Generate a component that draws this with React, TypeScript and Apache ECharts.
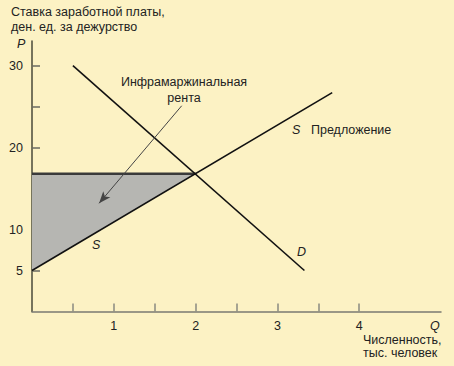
import React, { useEffect, useRef } from "react";
import * as echarts from "echarts";

const supplyPoints: [number, number][] = [[0, 5], [3.67, 26.7]];
const demandPoints: [number, number][] = [[0.5, 30], [3.33, 5]];
const wageLevel: [number, number][] = [[0, 16.8], [2, 16.8]];
const rentArea: [number, number][] = [[0, 5], [0, 16.8], [2, 16.8]];
const arrowPoints: [number, number][] = [[1.83, 25.1], [0.82, 13.2]];
const yTicks = [5, 10, 15, 20, 25, 30];
const yLabels = [5, 10, 20, 30];
const xTicks = [0.5, 1, 1.5, 2, 2.5, 3, 3.5, 4];
const xLabels = [1, 2, 3, 4];

const FONT = "Liberation Sans";
const TXT = "#222";

export default function App() {
  const ref = useRef<HTMLDivElement>(null);
  useEffect(() => {
    const chart = echarts.init(ref.current!, null, { renderer: "svg" });
    const t = (text: string, x: number, y: number, opts: any = {}) => ({
      type: "text",
      x,
      y,
      style: {
        text,
        fill: TXT,
        font: `${opts.italic ? "italic " : ""}${opts.size || 12.5}px "${FONT}"`,
        align: opts.align || "left",
        verticalAlign: "middle",
        lineHeight: opts.lineHeight,
      },
    });
    chart.setOption({
      animation: false,
      backgroundColor: "#fcf2c4",
      grid: { left: 32, top: 41, width: 409, height: 270.5 },
      xAxis: {
        type: "value",
        min: 0,
        max: 5,
        interval: 0.5,
        splitLine: { show: false },
        axisLine: { lineStyle: { color: "#7a7a72", width: 1.5 } },
        axisTick: { show: true, inside: true, length: 8, customValues: xTicks, lineStyle: { color: "#8a8a80", width: 1.5 } },
        axisLabel: { customValues: xLabels, color: TXT, fontFamily: FONT, fontSize: 12.5, margin: 8 },
      },
      yAxis: {
        type: "value",
        min: 0,
        max: 33,
        interval: 5,
        splitLine: { show: false },
        axisLine: { show: true, lineStyle: { color: "#4a4a3a", width: 1.5 } },
        axisTick: { show: true, inside: true, length: 8, customValues: yTicks, lineStyle: { color: "#6a6a60", width: 1.5 } },
        axisLabel: { customValues: yLabels, color: TXT, fontFamily: FONT, fontSize: 12.5, margin: 9 },
      },
      series: [
        {
          type: "custom",
          renderItem: (params: any, api: any) => {
            const pts = rentArea.map((p) => api.coord(p));
            return { type: "polygon", shape: { points: pts }, style: { fill: "#b6b6b2" } };
          },
          data: [0],
          silent: true,
        },
        {
          type: "line",
          data: wageLevel,
          symbol: "none",
          lineStyle: { color: "#3a3a3a", width: 2.5 },
        },
        {
          type: "line",
          data: supplyPoints,
          symbol: "none",
          lineStyle: { color: "#111", width: 1.6 },
        },
        {
          type: "line",
          data: demandPoints,
          symbol: "none",
          lineStyle: { color: "#111", width: 1.6 },
        },
        {
          type: "line",
          data: [],
          markLine: {
            silent: true,
            symbol: ["none", "arrow"],
            symbolSize: [7, 12],
            label: { show: false },
            lineStyle: { color: "#444", width: 1, type: "solid" },
            data: [[{ coord: arrowPoints[0] }, { coord: arrowPoints[1] }]],
          },
        },
      ],
      graphic: [
        t("Ставка заработной платы,", 11, 12),
        t("ден. ед. за дежурство", 11, 26.5),
        t("P", 17, 44, { italic: true }),
        t("Q", 430, 326, { italic: true }),
        t("Численность,\nтыс. человек", 363, 346.5, { lineHeight: 13 }),
        t("Инфрамаржинальная\nрента", 184, 90, { align: "center", lineHeight: 16 }),
        t("S", 92, 245, { italic: true }),
        t("S", 292, 130, { italic: true }),
        t("Предложение", 311, 130),
        t("D", 297, 252, { italic: true }),
      ],
    });
    return () => chart.dispose();
  }, []);
  return <div ref={ref} style={{ position: "fixed", left: 0, top: 0, width: 454, height: 366 }} />;
}
